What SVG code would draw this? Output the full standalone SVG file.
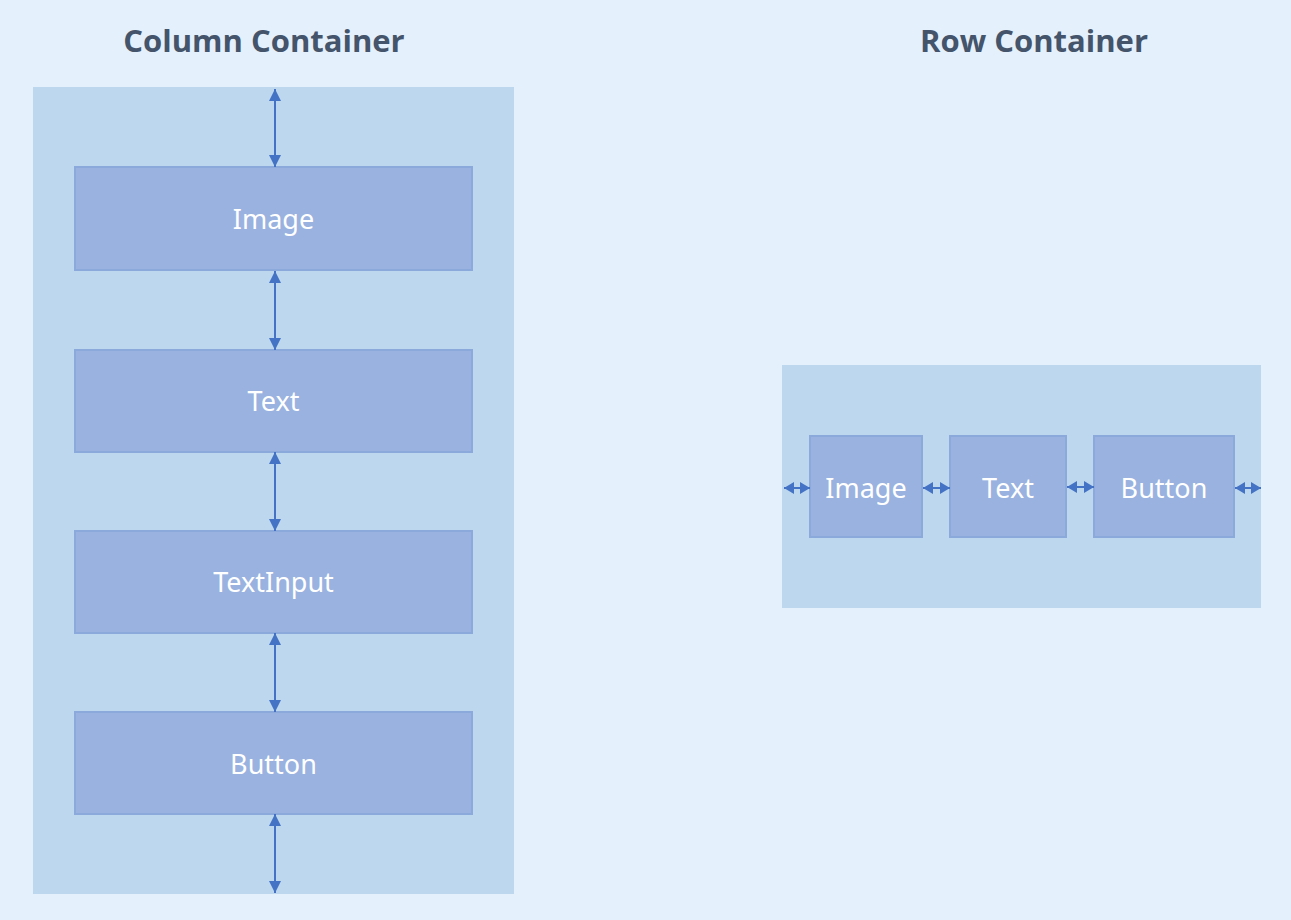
<svg xmlns="http://www.w3.org/2000/svg" width="1291" height="920" viewBox="0 0 1291 920">
<defs>
<style>
.title{font-family:"Open Sans","Noto Sans",sans-serif;font-weight:bold;font-size:31px;fill:#44546A;text-anchor:middle}
.cont{fill:#BDD7EE}
.box{fill:#99B2DF;stroke:#8CA9DC;stroke-width:2}
.lbl{font-family:"Noto Sans","Open Sans",sans-serif;font-size:27px;fill:#FFFFFF;text-anchor:middle;dominant-baseline:central}
.ar{stroke:#4472C4;stroke-width:2;fill:none}
</style>
<marker id="av" viewBox="0 0 12 12" markerWidth="12" markerHeight="12" refX="12" refY="6" orient="auto-start-reverse" markerUnits="userSpaceOnUse">
<path d="M0,0 L12,6 L0,12 Z" fill="#4472C4"/>
</marker>
<marker id="ah" viewBox="0 0 10 12" markerWidth="10" markerHeight="12" refX="10" refY="6" orient="auto-start-reverse" markerUnits="userSpaceOnUse">
<path d="M0,0 L10,6 L0,12 Z" fill="#4472C4"/>
</marker>
</defs>
<rect width="1291" height="920" fill="#E4F0FC"/>
<text class="title" x="264" y="52">Column Container</text>
<text class="title" x="1034" y="52">Row Container</text>
<rect class="cont" x="33" y="87" width="481" height="807"/>
<rect class="cont" x="782" y="365" width="479" height="243"/>
<g id="col-image"><rect class="box" x="75" y="167" width="397" height="103"/><text class="lbl" x="273.5" y="218">Image</text></g>
<g id="col-text"><rect class="box" x="75" y="350" width="397" height="102"/><text class="lbl" x="273.5" y="400">Text</text></g>
<g id="col-textinput"><rect class="box" x="75" y="531" width="397" height="102"/><text class="lbl" x="273.5" y="581">TextInput</text></g>
<g id="col-button"><rect class="box" x="75" y="712" width="397" height="102"/><text class="lbl" x="273.5" y="763">Button</text></g>
<g id="row-image"><rect class="box" x="810" y="436" width="112" height="101"/><text class="lbl" x="866" y="487">Image</text></g>
<g id="row-text"><rect class="box" x="950" y="436" width="116" height="101"/><text class="lbl" x="1008" y="487">Text</text></g>
<g id="row-button"><rect class="box" x="1094" y="436" width="140" height="101"/><text class="lbl" x="1164" y="487">Button</text></g>
<g id="connectors">
<line class="ar" x1="275" y1="89" x2="275" y2="167" marker-start="url(#av)" marker-end="url(#av)"/>
<line class="ar" x1="275" y1="271" x2="275" y2="350" marker-start="url(#av)" marker-end="url(#av)"/>
<line class="ar" x1="275" y1="452" x2="275" y2="531" marker-start="url(#av)" marker-end="url(#av)"/>
<line class="ar" x1="275" y1="633" x2="275" y2="712" marker-start="url(#av)" marker-end="url(#av)"/>
<line class="ar" x1="275" y1="814" x2="275" y2="893" marker-start="url(#av)" marker-end="url(#av)"/>
<line class="ar" x1="784" y1="488" x2="810" y2="488" marker-start="url(#ah)" marker-end="url(#ah)"/>
<line class="ar" x1="923" y1="488" x2="950" y2="488" marker-start="url(#ah)" marker-end="url(#ah)"/>
<line class="ar" x1="1067" y1="487" x2="1094" y2="487" marker-start="url(#ah)" marker-end="url(#ah)"/>
<line class="ar" x1="1235" y1="488" x2="1261" y2="488" marker-start="url(#ah)" marker-end="url(#ah)"/>
</g>
</svg>
